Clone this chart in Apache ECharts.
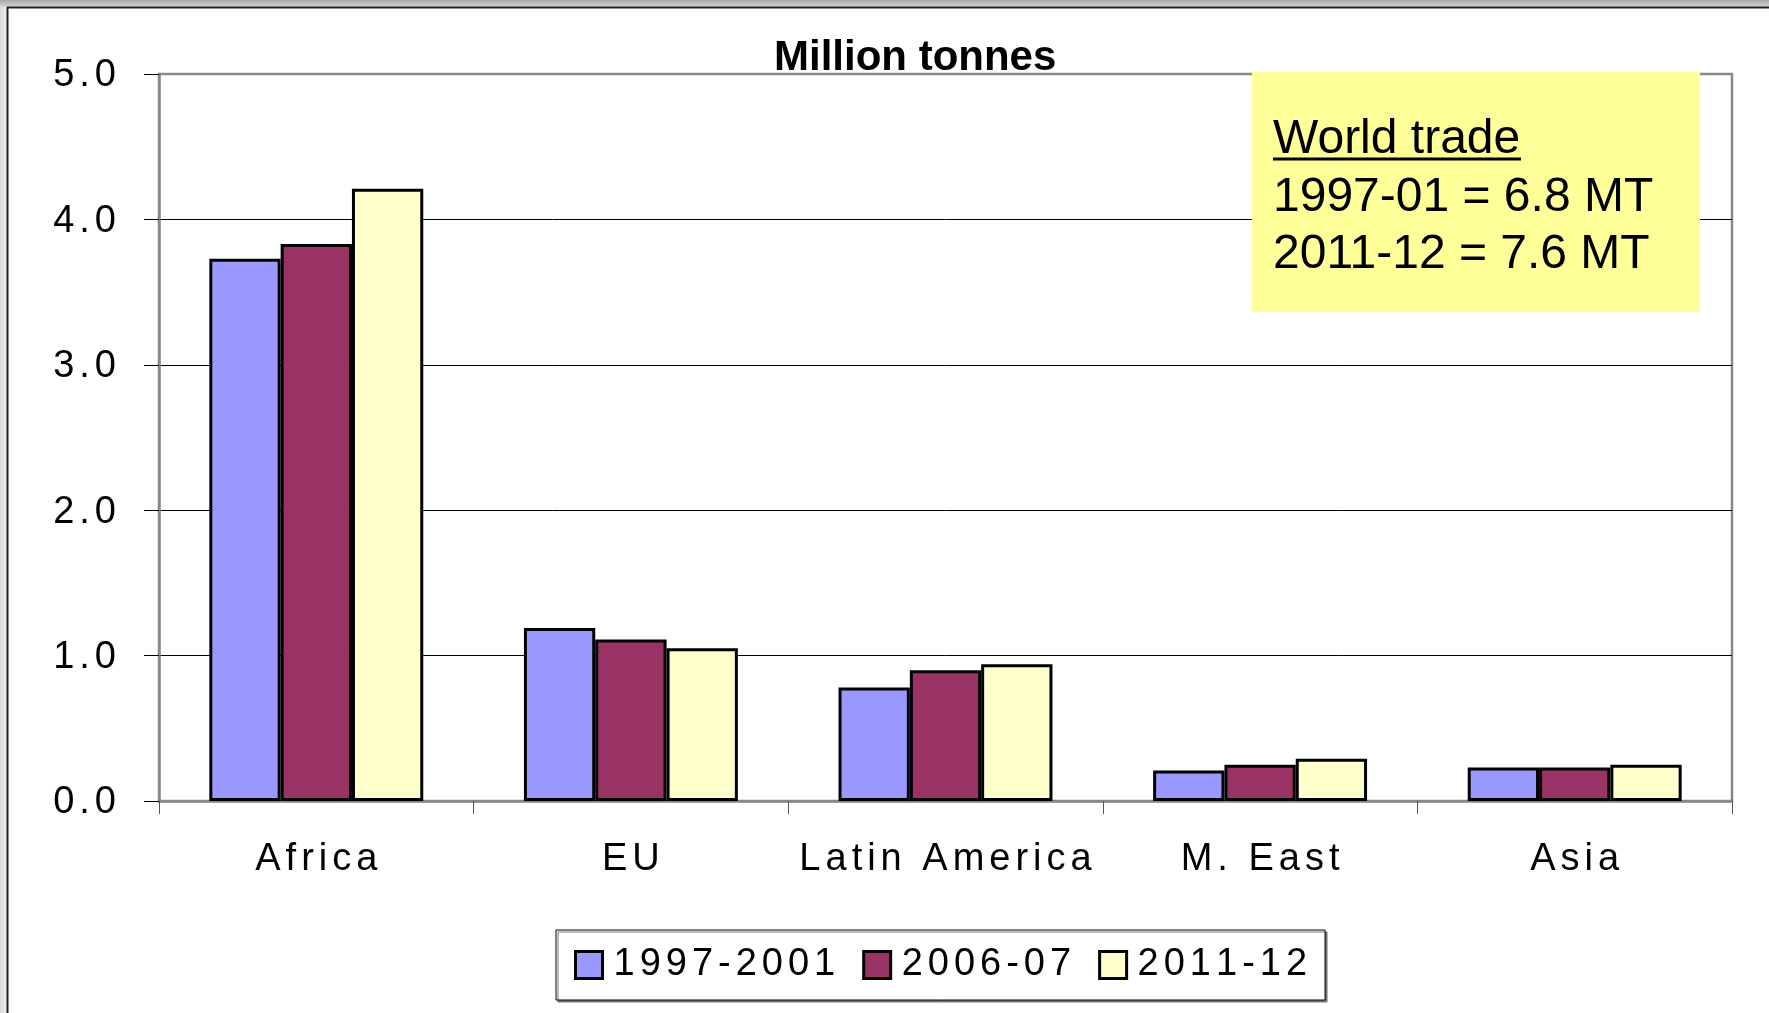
<!DOCTYPE html>
<html>
<head>
<meta charset="utf-8">
<script src="https://cdn.jsdelivr.net/npm/echarts@6/dist/echarts.min.js"></script>
<style>
  html, body { margin: 0; padding: 0; background: #fff; }
  #chart { width: 1769px; height: 1013px; }
</style>
</head>
<body>
<div id="chart"></div>
<script>
const categories = ['Africa', 'EU', 'Latin America', 'M. East', 'Asia']
const seriesNames = ['1997-2001', '2006-07', '2011-12']
const values1997 = [3.73, 1.19, 0.78, 0.21, 0.23]
const values2006 = [3.83, 1.11, 0.90, 0.25, 0.23]
const values2011 = [4.21, 1.05, 0.94, 0.29, 0.25]
const colors = ['#9999FF', '#993366', '#FFFFCC']
const noteLines = ['World trade', '1997-01 = 6.8 MT', '2011-12 = 7.6 MT']

const FONT = '"Liberation Sans", Arial, sans-serif'
// old excel export spreads the glyphs out a bit: put a small spacer between chars
const spaced = (s) => String(s).split('').join('{sp|\u2006}')
const spacerRich = { sp: { fontSize: 30, fontFamily: FONT } }

const chart = echarts.init(document.getElementById('chart'))

const barStyle = (color) => ({
  color,
  borderColor: '#000',
  borderWidth: 3
})

chart.setOption({
  animation: false,
  backgroundColor: '#fff',
  title: {
    text: 'Million tonnes',
    left: 774,
    top: 37,
    padding: 0,
    textStyle: { fontSize: 42, fontWeight: 'bold', fontFamily: FONT, color: '#000' }
  },
  grid: {
    left: 159,
    right: 37,
    top: 74,
    bottom: 212,
    show: true,
    borderColor: '#888',
    borderWidth: 2.5,
    containLabel: false
  },
  legend: {
    data: seriesNames,
    left: 556,
    top: 930,
    icon: 'rect',
    itemWidth: 27,
    itemHeight: 27,
    itemGap: 27,
    padding: [16, 18, 16, 18],
    borderColor: '#000',
    borderWidth: 1,
    borderRadius: 0,
    backgroundColor: '#fff',
    shadowColor: '#777',
    shadowOffsetX: 2,
    shadowOffsetY: 2,
    itemStyle: { borderColor: '#000', borderWidth: 3 },
    textStyle: { fontSize: 38, color: '#000', fontFamily: FONT, padding: [0, 0, 0, 6], rich: spacerRich },
    formatter: spaced
  },
  xAxis: {
    type: 'category',
    data: categories,
    axisLine: { lineStyle: { color: '#888', width: 2.5 } },
    axisTick: { show: true, interval: 0, length: 13, lineStyle: { color: '#555', width: 1 } },
    axisLabel: {
      interval: 0,
      margin: 40,
      fontSize: 38,
      color: '#000',
      fontFamily: FONT,
      rich: spacerRich,
      formatter: spaced
    }
  },
  yAxis: {
    type: 'value',
    min: 0,
    max: 5,
    interval: 1,
    axisLine: { show: true, lineStyle: { color: '#888', width: 2.5 } },
    axisTick: { show: true, length: 15, lineStyle: { color: '#000', width: 1 } },
    splitLine: {
      lineStyle: { color: ['#888', '#000', '#000', '#000', '#000', '#888'], width: 1 }
    },
    axisLabel: {
      margin: 43,
      padding: [4, 0, 0, 0],
      fontSize: 38,
      color: '#000',
      fontFamily: FONT,
      rich: spacerRich,
      formatter: (v) => spaced(v.toFixed(1))
    }
  },
  series: [
    { name: seriesNames[0], type: 'bar', data: values1997, itemStyle: barStyle(colors[0]), barGap: '0%', barCategoryGap: '32%' },
    { name: seriesNames[1], type: 'bar', data: values2006, itemStyle: barStyle(colors[1]), barGap: '0%', barCategoryGap: '32%' },
    { name: seriesNames[2], type: 'bar', data: values2011, itemStyle: barStyle(colors[2]), barGap: '0%', barCategoryGap: '32%' }
  ],
  graphic: [
    // slide frame
    {
      type: 'rect', z: 20, silent: true,
      shape: { x: 0, y: 0, width: 1769, height: 7 },
      style: { fill: new echarts.graphic.LinearGradient(0, 0, 0, 1, [{ offset: 0, color: '#a8a8a8' }, { offset: 1, color: '#d4d4d4' }]) }
    },
    {
      type: 'rect', z: 20, silent: true,
      shape: { x: 0, y: 7, width: 7, height: 1006 },
      style: { fill: new echarts.graphic.LinearGradient(0, 0, 1, 0, [{ offset: 0, color: '#d8d8d8' }, { offset: 1, color: '#f2f2f2' }]) }
    },
    { type: 'line', z: 21, silent: true, shape: { x1: 7, y1: 7.5, x2: 1769, y2: 7.5 }, style: { stroke: '#222', lineWidth: 2 } },
    { type: 'line', z: 21, silent: true, shape: { x1: 7.5, y1: 7, x2: 7.5, y2: 1013 }, style: { stroke: '#222', lineWidth: 2 } },
    // note box
    {
      type: 'rect', z: 30, silent: true,
      shape: { x: 1252, y: 72, width: 448, height: 240 },
      style: { fill: '#FFFF99' }
    },
    {
      type: 'text', z: 31, silent: true, left: 1273, top: 116,
      style: { text: noteLines[0], font: '48px ' + FONT, fill: '#000' }
    },
    { type: 'line', z: 31, silent: true, shape: { x1: 1273, y1: 159, x2: 1521, y2: 159 }, style: { stroke: '#000', lineWidth: 3 } },
    {
      type: 'text', z: 31, silent: true, left: 1273, top: 174,
      style: { text: noteLines[1], font: '48px ' + FONT, fill: '#000' }
    },
    {
      type: 'text', z: 31, silent: true, left: 1273, top: 231,
      style: { text: noteLines[2], font: '48px ' + FONT, fill: '#000' }
    }
  ]
})
</script>
</body>
</html>
